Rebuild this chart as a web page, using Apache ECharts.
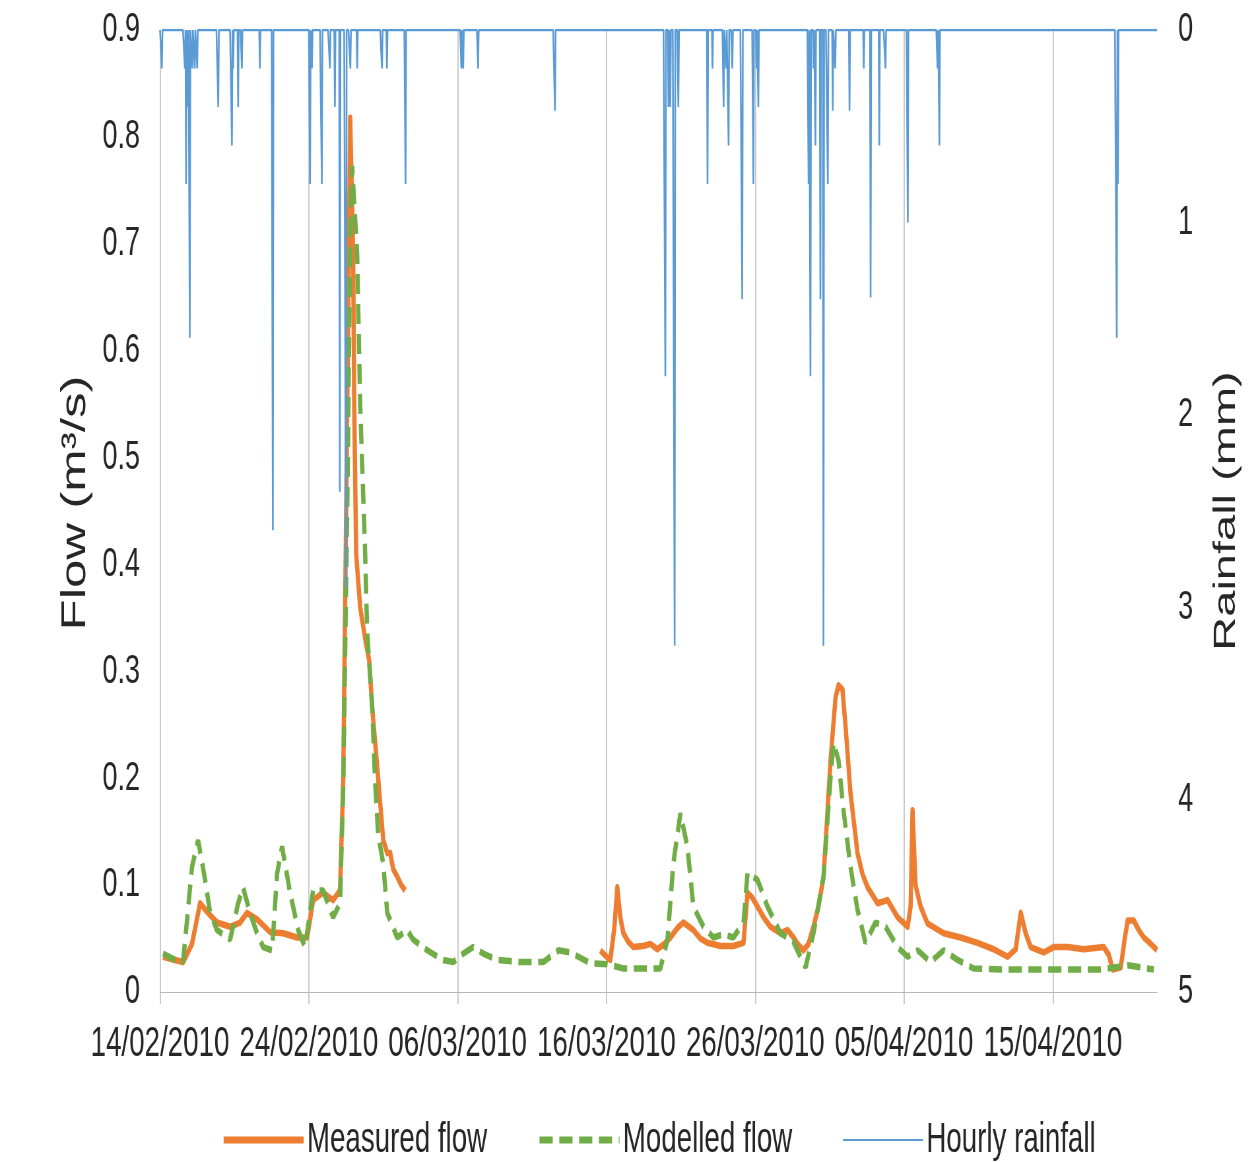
<!DOCTYPE html>
<html><head><meta charset="utf-8">
<script src="https://cdn.jsdelivr.net/npm/echarts@6/dist/echarts.min.js"></script>
<style>
html,body{margin:0;padding:0;background:#fff;width:1250px;height:1162px;overflow:hidden}
#wrap{width:1250px;height:1162px;overflow:hidden;position:relative}
#c{position:absolute;left:0;top:0;height:1162px;transform-origin:0 0}
</style>
</head><body><div id="wrap"><div id="c"></div></div>
<script>
// x values are days since 14/02/2010 00:00
const xTickDays = [0, 10, 20, 30, 40, 50, 60];
const xTickLabels = ['14/02/2010','24/02/2010','06/03/2010','16/03/2010','26/03/2010','05/04/2010','15/04/2010'];
const flowTickValues = [0, 0.1, 0.2, 0.3, 0.4, 0.5, 0.6, 0.7, 0.8, 0.9];
const rainTickValues = [0, 1, 2, 3, 4, 5];
const seriesNames = ['Measured flow', 'Modelled flow', 'Hourly rainfall'];

const measuredFlow = [
  [0.20,0.033],[1.01,0.030],[1.55,0.028],[2.15,0.045],[2.69,0.083],[3.23,0.074],[3.83,0.065],
  [4.71,0.061],[5.38,0.065],[5.85,0.074],[6.52,0.068],[7.40,0.056],[8.27,0.055],[9.21,0.051],
  [9.89,0.051],[10.29,0.086],[10.96,0.093],[11.63,0.086],[12.10,0.095],[12.31,0.198],[12.51,0.45],
  [12.78,0.818],[12.98,0.69],[13.05,0.55],[13.18,0.41],[13.45,0.36],[13.79,0.33],[14.06,0.31],
  [14.26,0.266],[14.66,0.20],[15.00,0.142],[15.27,0.13],[15.47,0.13],[15.67,0.115],[15.94,0.108],
  [16.21,0.10],[16.48,0.095],[16.6,null],
  [29.59,0.039],[29.86,0.035],[30.26,0.030],[30.53,0.06],[30.73,0.098],[30.93,0.07],[31.14,0.055],
  [31.47,0.047],[31.81,0.042],[32.48,0.043],[32.95,0.045],[33.42,0.040],[33.89,0.045],[34.30,0.051],
  [34.77,0.06],[35.17,0.065],[35.84,0.058],[36.31,0.050],[36.79,0.046],[37.66,0.043],[38.53,0.043],
  [39.21,0.046],[39.48,0.093],[39.81,0.088],[40.15,0.080],[40.55,0.07],[41.02,0.061],[41.69,0.055],
  [42.17,0.058],[42.57,0.051],[42.84,0.045],[43.24,0.039],[43.58,0.045],[43.91,0.061],[44.25,0.08],
  [44.59,0.108],[44.86,0.17],[45.06,0.217],[45.39,0.275],[45.59,0.287],[45.86,0.283],[46.07,0.248],
  [46.40,0.186],[46.87,0.130],[47.21,0.110],[47.55,0.098],[48.22,0.083],[48.89,0.086],[49.56,0.070],
  [50.24,0.061],[50.44,0.080],[50.57,0.170],[50.77,0.10],[51.11,0.080],[51.58,0.064],[52.66,0.055],
  [53.80,0.051],[54.94,0.046],[56.02,0.040],[56.96,0.033],[57.50,0.04],[57.84,0.074],[58.17,0.055],
  [58.51,0.042],[59.38,0.037],[60.05,0.042],[61.00,0.042],[62.07,0.040],[63.42,0.042],[63.75,0.035],
  [64.02,0.021],[64.56,0.023],[64.83,0.05],[65.03,0.067],[65.43,0.067],[65.77,0.058],[66.11,0.051],
  [66.58,0.045],[67.0,0.039]
];

const modelledFlow = [
  [0.20,0.036],[1.01,0.030],[1.55,0.028],[2.15,0.117],[2.56,0.142],[3.03,0.105],[3.36,0.075],
  [3.83,0.058],[4.71,0.049],[5.25,0.083],[5.58,0.098],[6.05,0.074],[6.52,0.055],[6.93,0.042],
  [7.53,0.039],[7.87,0.111],[8.20,0.136],[8.74,0.093],[9.28,0.058],[9.75,0.042],[10.29,0.095],
  [10.96,0.095],[11.63,0.070],[12.10,0.083],[12.31,0.19],[12.58,0.45],[12.78,0.70],[12.91,0.773],
  [13.25,0.69],[13.45,0.55],[13.79,0.408],[13.92,0.337],[14.26,0.266],[14.46,0.195],[14.66,0.147],
  [14.80,0.136],[15.00,0.12],[15.27,0.074],[15.94,0.051],[16.61,0.058],[17.01,0.049],[17.96,0.039],
  [19.03,0.030],[19.70,0.028],[20.38,0.036],[21.05,0.042],[21.72,0.036],[22.66,0.030],[24.21,0.028],
  [25.76,0.028],[26.77,0.039],[27.57,0.037],[28.92,0.027],[30.06,0.026],[31.14,0.022],[33.62,0.022],
  [34.10,0.049],[34.50,0.121],[34.97,0.167],[35.44,0.136],[35.84,0.080],[36.52,0.061],[37.19,0.051],
  [37.86,0.054],[38.53,0.051],[39.21,0.065],[39.48,0.111],[40.15,0.105],[40.82,0.080],[41.69,0.055],
  [42.57,0.047],[43.38,0.023],[43.91,0.055],[44.59,0.108],[45.06,0.201],[45.26,0.233],[45.59,0.217],
  [45.93,0.170],[46.40,0.117],[46.87,0.077],[47.41,0.046],[48.08,0.065],[48.76,0.061],[49.56,0.042],
  [50.24,0.033],[50.91,0.039],[51.78,0.028],[52.66,0.039],[53.60,0.030],[54.67,0.022],[56.49,0.021],
  [59.85,0.021],[63.21,0.021],[65.03,0.025],[66.78,0.021]
];

// rainfall events: [day offset, mm]; all other hours are 0 mm
const rainfallEvents = [
  [0.13,0.2],[1.68,0.2],[1.75,0.8],[1.88,0.4],[2.02,1.6],[2.15,0.2],[2.35,0.2],[2.49,0.2],
  [3.90,0.4],[4.84,0.6],[4.91,0.2],[5.25,0.4],[5.51,0.2],[6.72,0.2],[7.60,2.6],
  [10.09,0.8],[10.22,0.2],[10.89,0.8],[11.43,0.2],[11.77,0.4],[12.10,2.4],[12.51,2.9],
  [12.78,0.2],[13.25,0.2],[14.93,0.2],[15.27,0.2],[16.48,0.8],[20.24,0.2],[20.38,0.2],[21.39,0.2],
  [26.56,0.42],[33.96,1.8],[34.16,0.4],[34.30,0.4],[34.57,3.2],[34.83,0.4],
  [36.79,0.8],[37.12,0.2],[37.86,0.4],[38.06,0.2],[38.20,0.6],[38.47,0.2],[39.14,1.4],
  [39.88,0.8],[40.08,0.2],[40.22,0.4],[43.58,0.8],[43.71,1.8],[43.91,0.2],[44.05,0.6],
  [44.38,1.4],[44.59,3.2],[44.86,0.8],[45.19,0.42],[45.39,0.2],[46.33,0.42],[47.28,0.2],
  [47.75,1.39],[48.35,0.6],[48.76,0.2],[50.24,1.0],[52.25,0.2],[52.39,0.6],[64.29,1.6],[64.36,0.8]
];

const X_MAX = 67;
const hourly = new Array(X_MAX * 24 + 1).fill(0);
rainfallEvents.forEach(([d, v]) => {
  const h = Math.round(d * 24);
  hourly[h] = Math.max(hourly[h], v);
});
const rainfallData = hourly.map((v, i) => [i / 24, v]);

// The reference picture is horizontally compressed; render wider and squeeze with CSS.
const S = 0.66;
const W = Math.round(1250 / S);
const el = document.getElementById('c');
el.style.width = W + 'px';
el.style.transform = 'scaleX(' + S + ')';
const hx = v => v / S;

const font = "'Liberation Sans', Arial, sans-serif";
const textCol = '#262626';
const gridCol = '#b8b8b8';

const chart = echarts.init(el, null, {renderer: 'canvas', width: W, height: 1162});
chart.setOption({
  animation: false,
  backgroundColor: '#ffffff',
  grid: {left: hx(160), right: hx(93), top: 30, bottom: 170, containLabel: false},
  xAxis: {
    type: 'value', min: 0, max: X_MAX, interval: 10,
    axisLine: {show: true, lineStyle: {color: gridCol, width: 1.2}},
    axisTick: {show: true, length: 12, lineStyle: {color: gridCol, width: 1.5}, customValues: xTickDays},
    axisLabel: {
      customValues: xTickDays, showMinLabel: true, showMaxLabel: true,
      margin: 31, fontSize: 42, fontFamily: font, color: textCol,
      formatter: v => { const i = xTickDays.indexOf(Math.round(v)); return (i >= 0 && Math.abs(v - xTickDays[i]) < 1e-6) ? xTickLabels[i] : ''; }
    },
    splitLine: {show: true, lineStyle: {color: [gridCol, gridCol, gridCol, gridCol, gridCol, gridCol, gridCol, 'rgba(0,0,0,0)'], width: 1.5}}
  },
  yAxis: [
    {
      type: 'value', min: 0, max: 0.9, interval: 0.1, position: 'left',
      axisLine: {show: false}, axisTick: {show: false}, splitLine: {show: false},
      axisLabel: {margin: hx(20), fontSize: 41, fontFamily: font, color: textCol,
        formatter: v => { const t = flowTickValues.find(x => Math.abs(x - v) < 1e-6); return t === undefined ? '' : String(t); }}
    },
    {
      type: 'value', min: 0, max: 5, interval: 1, position: 'right', inverse: true,
      axisLine: {show: false}, axisTick: {show: false}, splitLine: {show: false},
      axisLabel: {margin: hx(21), fontSize: 41, fontFamily: font, color: textCol,
        formatter: v => { const t = rainTickValues.find(x => Math.abs(x - v) < 1e-6); return t === undefined ? '' : String(t); }}
    }
  ],
  legend: {
    left: hx(218), top: 1114, itemWidth: hx(80), itemHeight: 14, itemGap: hx(50),
    textStyle: {fontSize: 42, fontFamily: font, color: textCol},
    data: [
      {name: seriesNames[0], itemStyle: {opacity: 0}, lineStyle: {width: 7, color: '#ED7D31', type: 'solid'}},
      {name: seriesNames[1], itemStyle: {opacity: 0}, lineStyle: {width: 7, color: '#70AD47', type: [20, 10]}},
      {name: seriesNames[2], itemStyle: {opacity: 0}, lineStyle: {width: 2, color: '#5B9BD5', type: 'solid'}}
    ]
  },
  series: [
    {
      name: seriesNames[0], type: 'line', yAxisIndex: 0, data: measuredFlow,
      showSymbol: false, symbol: 'none', connectNulls: false,
      lineStyle: {color: '#ED7D31', width: 6.5, join: 'round'}, itemStyle: {color: '#ED7D31'}, z: 2
    },
    {
      name: seriesNames[1], type: 'line', yAxisIndex: 0, data: modelledFlow,
      showSymbol: false, symbol: 'none',
      lineStyle: {color: '#70AD47', width: 6.5, type: [20, 10]}, itemStyle: {color: '#70AD47'}, z: 3
    },
    {
      name: seriesNames[2], type: 'line', yAxisIndex: 1, data: rainfallData,
      showSymbol: false, symbol: 'none',
      lineStyle: {color: '#5B9BD5', width: 2.6}, itemStyle: {color: '#5B9BD5'}, z: 4
    }
  ],
  graphic: [
    {type: 'text', x: hx(76), y: 503, rotation: Math.PI / 2,
      style: {text: 'Flow (m³/s)', fontSize: 51, fontFamily: font, fill: textCol,
        align: 'center', verticalAlign: 'middle', textAlign: 'center', textVerticalAlign: 'middle'}},
    {type: 'text', x: hx(1226), y: 511, rotation: Math.PI / 2,
      style: {text: 'Rainfall (mm)', fontSize: 47, fontFamily: font, fill: textCol,
        align: 'center', verticalAlign: 'middle', textAlign: 'center', textVerticalAlign: 'middle'}}
  ]
});
</script></body></html>
